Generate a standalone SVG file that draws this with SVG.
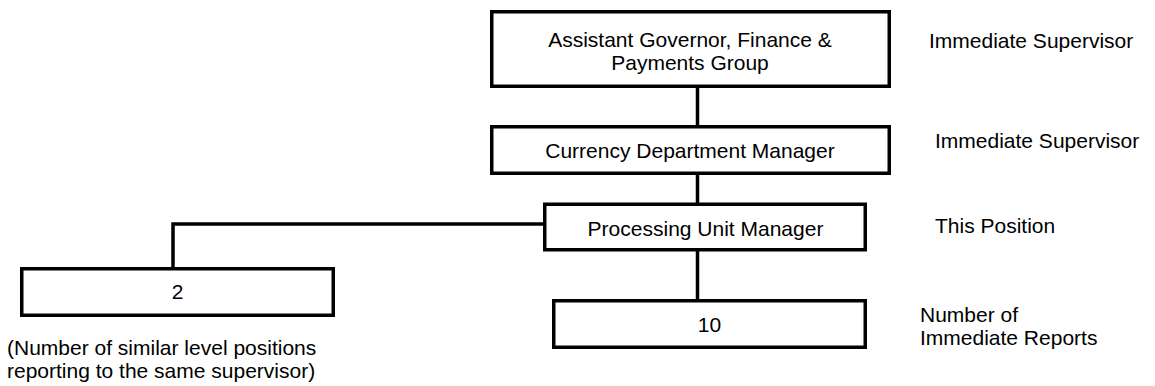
<svg xmlns="http://www.w3.org/2000/svg" width="1155" height="386" viewBox="0 0 1155 386">
  <style>
    .box { fill: #ffffff; stroke: #000000; stroke-width: 3.5; }
    .link { fill: none; stroke: #000000; stroke-width: 3.5; }
    text { font-family: "Liberation Sans", Arial, sans-serif; font-size: 21px; fill: #000000; }
    .mid { text-anchor: middle; }
  </style>
  <rect width="1155" height="386" fill="#ffffff"/>

  <!-- reporting lines -->
  <g id="connectors">
    <line class="link" x1="697.5" y1="88" x2="697.5" y2="125"/>
    <line class="link" x1="697.5" y1="175" x2="697.5" y2="203"/>
    <polyline class="link" points="543,224 173,224 173,267"/>
    <line class="link" x1="697.5" y1="250" x2="697.5" y2="299"/>
  </g>

  <g id="assistant-governor">
    <rect class="box" x="491.75" y="11.75" width="397.5" height="74.5"/>
    <text class="mid" x="690" y="47">Assistant Governor, Finance &amp;</text>
    <text class="mid" x="690" y="70">Payments Group</text>
  </g>

  <g id="currency-manager">
    <rect class="box" x="491.75" y="126.75" width="397.5" height="46.5"/>
    <text class="mid" x="690" y="158">Currency Department Manager</text>
  </g>

  <g id="processing-manager">
    <rect class="box" x="544.75" y="204.25" width="320.5" height="45.5"/>
    <text class="mid" x="705.5" y="235.5">Processing Unit Manager</text>
  </g>

  <g id="peer-positions">
    <rect class="box" x="21.75" y="268.75" width="311.5" height="46.5"/>
    <text class="mid" x="177.5" y="299">2</text>
  </g>

  <g id="direct-reports">
    <rect class="box" x="553.75" y="300.75" width="311.5" height="46.5"/>
    <text class="mid" x="709.5" y="332">10</text>
  </g>

  <!-- side annotations -->
  <g id="annotations">
    <text x="929" y="48">Immediate Supervisor</text>
    <text x="935" y="148">Immediate Supervisor</text>
    <text x="935" y="233">This Position</text>
    <text x="920" y="322">Number of</text>
    <text x="920" y="345">Immediate Reports</text>
    <text x="7" y="355">(Number of similar level positions</text>
    <text x="7" y="378">reporting to the same supervisor)</text>
  </g>
</svg>
